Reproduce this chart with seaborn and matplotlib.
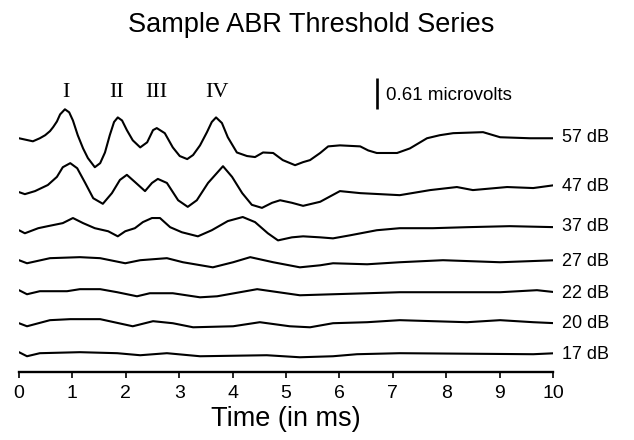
import numpy as np
import matplotlib
matplotlib.use("Agg")
import matplotlib.pyplot as plt
import seaborn as sns

# ABR traces, time in ms, amplitude in microvolts (relative to each trace baseline)
levels = ["57 dB", "47 dB", "37 dB", "27 dB", "22 dB", "20 dB", "17 dB"]
offsets = [4.62, 3.66, 2.87, 2.18, 1.55, 0.96, 0.35]

t57 = [0.0, 0.26, 0.39, 0.49, 0.58, 0.64, 0.71, 0.77, 0.86, 0.94, 1.01, 1.10, 1.20, 1.29, 1.42,
       1.52, 1.61, 1.70, 1.78, 1.85, 1.93, 2.02, 2.13, 2.27, 2.40, 2.51, 2.58, 2.73, 2.88, 3.01,
       3.15, 3.26, 3.39, 3.52, 3.61, 3.69, 3.80, 3.91, 4.08, 4.27, 4.42, 4.57, 4.76, 4.94, 5.17,
       5.32, 5.45, 5.64, 5.79, 6.01, 6.39, 6.54, 6.70, 7.08, 7.32, 7.64, 7.88, 8.13, 8.69, 9.01,
       9.57, 10.05]
a57 = [-0.02, -0.08, -0.02, 0.04, 0.12, 0.20, 0.31, 0.45, 0.55, 0.49, 0.33, 0.04, -0.22, -0.41, -0.59,
       -0.51, -0.30, 0.04, 0.30, 0.39, 0.33, 0.14, -0.06, -0.20, -0.10, 0.14, 0.18, 0.08, -0.20, -0.37,
       -0.43, -0.35, -0.16, 0.10, 0.30, 0.39, 0.28, 0.00, -0.30, -0.37, -0.39, -0.30, -0.31, -0.45, -0.55,
       -0.49, -0.45, -0.31, -0.18, -0.16, -0.18, -0.26, -0.31, -0.31, -0.22, -0.02, 0.04, 0.08, 0.10, 0.00,
       -0.02, -0.02]

t47 = [0.0, 0.11, 0.30, 0.54, 0.71, 0.82, 0.96, 1.09, 1.24, 1.39, 1.57, 1.74, 1.89, 2.02, 2.17,
       2.36, 2.49, 2.60, 2.77, 2.98, 3.16, 3.33, 3.54, 3.82, 3.99, 4.18, 4.36, 4.55, 4.74, 4.89,
       5.11, 5.32, 5.64, 6.01, 6.39, 7.13, 7.70, 8.20, 8.50, 9.14, 9.63, 10.05]
a47 = [-0.12, -0.16, -0.10, 0.02, 0.18, 0.37, 0.45, 0.35, 0.06, -0.24, -0.35, -0.14, 0.12, 0.22, 0.08,
       -0.10, 0.06, 0.14, 0.06, -0.28, -0.41, -0.28, 0.06, 0.39, 0.18, -0.14, -0.37, -0.43, -0.33, -0.28,
       -0.33, -0.39, -0.31, -0.10, -0.14, -0.18, -0.08, -0.02, -0.08, -0.02, -0.04, 0.02]

t37 = [0.0, 0.11, 0.36, 0.54, 0.82, 1.01, 1.20, 1.42, 1.67, 1.85, 1.99, 2.17, 2.32, 2.49, 2.64,
       2.83, 3.05, 3.35, 3.61, 3.91, 4.19, 4.42, 4.66, 4.85, 5.11, 5.32, 5.64, 5.88, 6.20, 6.70,
       7.13, 7.75, 8.39, 9.19, 10.05]
a37 = [-0.08, -0.14, -0.04, 0.00, 0.06, 0.16, 0.06, -0.04, -0.10, -0.20, -0.10, -0.04, 0.08, 0.16, 0.16,
       -0.02, -0.12, -0.20, -0.08, 0.10, 0.18, 0.08, -0.14, -0.28, -0.22, -0.20, -0.22, -0.24, -0.18, -0.08,
       -0.04, -0.04, -0.02, 0.00, -0.02]

t27 = [0.0, 0.15, 0.58, 1.14, 1.52, 1.99, 2.27, 2.77, 3.07, 3.63, 4.01, 4.33, 4.76, 5.26, 5.64,
       5.88, 6.52, 7.13, 7.94, 9.01, 10.05]
a27 = [0.02, -0.04, 0.06, 0.08, 0.06, -0.04, 0.02, 0.06, -0.02, -0.12, -0.02, 0.08, -0.02, -0.12, -0.08,
       -0.04, -0.06, -0.02, 0.02, -0.02, 0.02]

t22 = [0.0, 0.15, 0.39, 0.90, 1.14, 1.52, 1.84, 2.21, 2.45, 2.88, 3.39, 3.71, 4.46, 5.26, 5.88,
       6.52, 7.13, 9.01, 9.70, 10.05]
a22 = [0.06, -0.02, 0.04, 0.04, 0.08, 0.08, 0.02, -0.06, 0.00, 0.00, -0.08, -0.06, 0.08, -0.04, -0.02,
       0.00, 0.02, 0.02, 0.06, 0.02]

t20 = [0.0, 0.15, 0.58, 0.96, 1.52, 2.13, 2.51, 2.88, 3.26, 4.01, 4.51, 5.07, 5.45, 5.88, 6.52,
       7.13, 7.75, 8.39, 9.01, 9.63, 10.05]
a20 = [0.00, -0.06, 0.06, 0.08, 0.08, -0.06, 0.04, 0.00, -0.08, -0.06, 0.02, -0.06, -0.08, 0.00, 0.02,
       0.06, 0.04, 0.02, 0.06, 0.02, 0.00]

t17 = [0.0, 0.15, 0.39, 1.14, 1.84, 2.27, 2.77, 3.39, 4.64, 5.26, 5.88, 6.33, 7.13, 9.63, 10.05]
a17 = [0.04, -0.04, 0.02, 0.04, 0.02, -0.02, 0.02, -0.04, -0.02, -0.06, -0.04, 0.00, 0.02, 0.00, 0.02]

times = [t57, t47, t37, t27, t22, t20, t17]
amps = [a57, a47, a37, a27, a22, a20, a17]

peak_names = ["I", "II", "III", "IV"]
peak_times = [0.88, 1.83, 2.57, 3.71]
scale_uv = 0.61
xticks = list(range(0, 11))

sns.set_theme(style="white")
plt.rcParams["font.family"] = ["Liberation Sans", "DejaVu Sans"]
plt.rcParams["text.color"] = "black"
plt.rcParams["axes.labelcolor"] = "black"
plt.rcParams["xtick.color"] = "black"

fig = plt.figure(figsize=(6.34, 4.40), dpi=100)
ax = fig.add_axes([19 / 634, 68 / 440, 534 / 634, 312 / 440])

for t, a, off in zip(times, amps, offsets):
    assert len(t) == len(a)
    sns.lineplot(x=t, y=np.array(a) + off, ax=ax, color="black", lw=1.5,
                 estimator=None, sort=False, solid_joinstyle="round")

for lab, off in zip(levels, offsets):
    ax.text(10.17, off, lab, fontsize=13, va="center", ha="left", clip_on=False)

for name, pt in zip(peak_names, peak_times):
    ax.text(pt, 5.51, name, fontsize=16, ha="center", va="center",
            family=["Liberation Serif", "DejaVu Serif"])

# scale bar
ax.plot([6.70, 6.70], [5.18, 5.18 + scale_uv], color="black", lw=1.9, solid_capstyle="butt")
ax.text(6.87, 5.45, f"{scale_uv} microvolts", fontsize=13.5, va="center", ha="left")

ax.set_xlim(0, 10)
ax.set_ylim(0, 6.14)
ax.set_xticks(xticks)
ax.set_xticklabels([str(v) for v in xticks])
ax.set_yticks([])
for s in ["top", "right", "left"]:
    ax.spines[s].set_visible(False)
ax.spines["bottom"].set_linewidth(1.7)
ax.spines["bottom"].set_color("black")
ax.tick_params(axis="x", direction="out", length=4, width=1.2, color="black",
               labelsize=14, labelcolor="black", pad=5, bottom=True)
ax.set_xlabel("Time (in ms)", fontsize=19.5, labelpad=3)
ax.set_ylabel("")

fig.text(311 / 634, 1 - 32 / 440, "Sample ABR Threshold Series", fontsize=19.5,
         ha="center", va="baseline")

fig.savefig("out.png", dpi=100)
